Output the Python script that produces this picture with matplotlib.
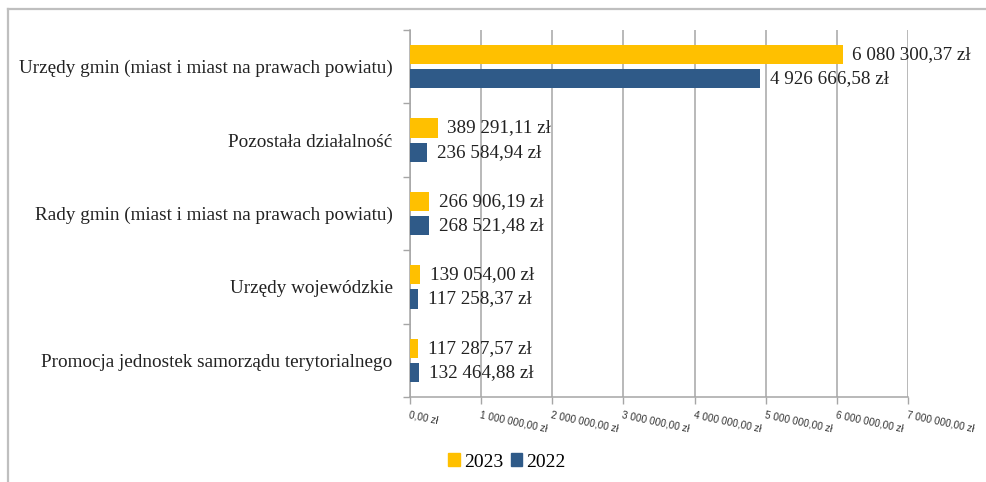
import matplotlib
matplotlib.use("Agg")
import matplotlib.pyplot as plt
from matplotlib.lines import Line2D
from matplotlib.patches import Patch
import numpy as np

categories = [
    "Urzędy gmin (miast i miast na prawach powiatu)",
    "Pozostała działalność",
    "Rady gmin (miast i miast na prawach powiatu)",
    "Urzędy wojewódzkie",
    "Promocja jednostek samorządu terytorialnego",
]
v2023 = [6080300.37, 389291.11, 266906.19, 139054.00, 117287.57]
v2022 = [4926666.58, 236584.94, 268521.48, 117258.37, 132464.88]
xticks = [0, 1e6, 2e6, 3e6, 4e6, 5e6, 6e6, 7e6]
xticklabels = ["0,00 zł", "1 000 000,00 zł", "2 000 000,00 zł", "3 000 000,00 zł",
               "4 000 000,00 zł", "5 000 000,00 zł", "6 000 000,00 zł", "7 000 000,00 zł"]
series_names = ["2023", "2022"]

YELLOW = "#FFC000"
BLUE = "#2F5A88"
GRID = "#A6A6A6"
SERIF = "Liberation Serif"


def fmt(v):
    s = f"{v:,.2f}"
    ip, dp = s.split(".")
    return ip.replace(",", " ") + "," + dp + " zł"


fig = plt.figure(figsize=(9.87, 4.82), dpi=100)
ax = fig.add_axes([410 / 987, 1 - 397 / 482, (908 - 410) / 987, (397 - 30) / 482])

y = np.arange(len(categories))
h = 0.26
off = 0.165
ax.barh(y - off, v2023, height=h, color=YELLOW, zorder=3)
ax.barh(y + off, v2022, height=h, color=BLUE, zorder=3)

for yi, a, b in zip(y, v2023, v2022):
    ax.annotate(fmt(a), (a, yi - off), xytext=(7, 0), textcoords="offset points",
                va="center", ha="left", fontsize=13.8, family=SERIF, color="#222222", zorder=4)
    ax.annotate(fmt(b), (b, yi + off), xytext=(7, 0), textcoords="offset points",
                va="center", ha="left", fontsize=13.8, family=SERIF, color="#222222", zorder=4)

ax.set_xlim(0, 7e6)
ax.set_ylim(len(categories) - 0.5, -0.5)

ax.set_xticks(xticks)
ax.set_xticklabels(xticklabels, rotation=-12, ha="left", va="top", rotation_mode="anchor",
                   fontsize=7.2, family="Liberation Sans", color="#333333")
ax.tick_params(axis="x", length=5, color=GRID, width=1, pad=4)
ax.xaxis.grid(True, color=GRID, linewidth=1.1, zorder=0)

ax.set_yticks(np.arange(len(categories) + 1) - 0.5)
ax.set_yticklabels([])
ax.tick_params(axis="y", which="major", length=5, color=GRID, width=1)
ax.set_yticks(y, minor=True)
ax.set_yticklabels(categories, minor=True, fontsize=13.8, family=SERIF, color="#222222")
ax.tick_params(axis="y", which="minor", length=0, pad=12.5)

for s in ["top", "right"]:
    ax.spines[s].set_visible(False)
for s in ["left", "bottom"]:
    ax.spines[s].set_color(GRID)
    ax.spines[s].set_linewidth(1.1)

handles = [Patch(color=YELLOW), Patch(color=BLUE)]
fig.legend(handles, series_names, loc="center", bbox_to_anchor=(507 / 987, 1 - 462 / 482),
           ncol=2, frameon=False, prop={"family": SERIF, "size": 14},
           handlelength=0.6, handleheight=0.6, handletextpad=0.2, columnspacing=0.4)

# outer frame (left and top visible)
fig.add_artist(Line2D([8 / 987, 8 / 987], [0, 1 - 9 / 482], color="#BFBFBF", lw=1.6,
                      transform=fig.transFigure))
fig.add_artist(Line2D([8 / 987, 1], [1 - 9 / 482, 1 - 9 / 482], color="#BFBFBF", lw=1.6,
                      transform=fig.transFigure))

fig.savefig("out.png", dpi=100)
